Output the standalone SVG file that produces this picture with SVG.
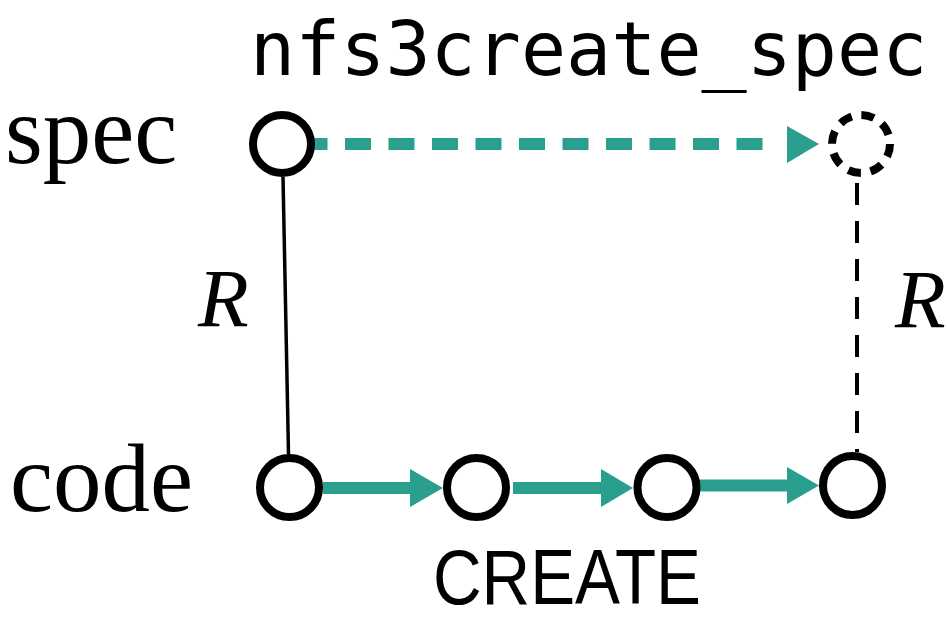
<svg xmlns="http://www.w3.org/2000/svg" width="948" height="623" viewBox="0 0 948 623">
<style>
.node{fill:#fff;stroke:#000;stroke-width:8}
.ghost{fill:#fff;stroke:#000;stroke-width:8;stroke-dasharray:13 9.8}
.flow{stroke:#2a9f8e;stroke-width:12;fill:none}
.head{fill:#2a9f8e}
.lbl{font-family:"Liberation Serif","Times New Roman",serif;fill:#000}
</style>
<rect width="948" height="623" fill="#fff"/>
<g id="connectors">
<line x1="283" y1="177" x2="288.5" y2="454" stroke="#000" stroke-width="3.5"/>
<line x1="857" y1="177" x2="857" y2="452" stroke="#000" stroke-width="4" stroke-dasharray="22 16" stroke-dashoffset="-6"/>
<line class="flow" x1="301.5" y1="144" x2="775" y2="144" stroke-dasharray="26 17.5"/>
<polygon class="head" points="787,126 819,144 787,163"/>
<line class="flow" x1="323" y1="488" x2="412" y2="488"/>
<polygon class="head" points="410,469 443,488 410,507"/>
<line class="flow" x1="513" y1="488" x2="603" y2="488"/>
<polygon class="head" points="601,469 633,488 601,507"/>
<line class="flow" x1="699" y1="485.5" x2="789" y2="485.5"/>
<polygon class="head" points="787,467 819,485.5 787,504"/>
</g>
<g id="spec-node"><circle class="node" cx="282" cy="144" r="29"/></g>
<g id="spec-target"><circle class="ghost" cx="861" cy="144" r="29"/></g>
<g id="code1"><circle class="node" cx="289.5" cy="487.5" r="29.5"/></g>
<g id="code2"><circle class="node" cx="476.5" cy="487.5" r="29.5"/></g>
<g id="code3"><circle class="node" cx="667" cy="487.5" r="29.5"/></g>
<g id="code4"><circle class="node" cx="852.5" cy="485.5" r="29.5"/></g>
<g id="labels">
<text x="250" y="75" font-family="'DejaVu Sans Mono','Liberation Mono',monospace" font-size="75">nfs3create_spec</text>
<text class="lbl" x="5" y="163" font-size="97">spec</text>
<text class="lbl" x="10" y="511" font-size="97">code</text>
<text class="lbl" x="198" y="326" font-size="83" font-style="italic">R</text>
<text class="lbl" x="895" y="327" font-size="83" font-style="italic">R</text>
<text x="433" y="604" font-family="'Liberation Sans',Arial,sans-serif" font-size="78" textLength="268" lengthAdjust="spacingAndGlyphs">CREATE</text>
</g>
</svg>
